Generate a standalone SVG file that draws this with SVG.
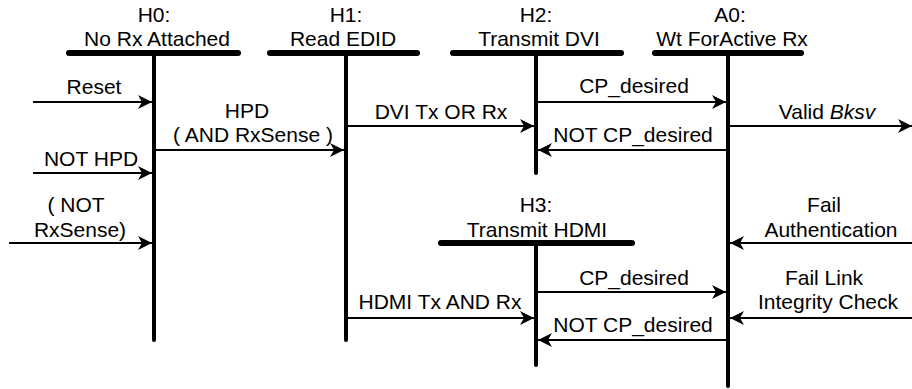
<svg xmlns="http://www.w3.org/2000/svg" width="912" height="389" viewBox="0 0 912 389">
<style>
text{font-family:"Liberation Sans",Arial,sans-serif;font-size:21px;fill:#000;text-anchor:middle}
.bar{stroke:#000;stroke-width:6;stroke-linecap:round;fill:none}
.life{stroke:#000;stroke-width:4;stroke-linecap:round;fill:none}
.arr{stroke:#000;stroke-width:2;fill:none;marker-end:url(#ah)}
</style>
<defs>
<marker id="ah" viewBox="-15 -8 16 16" refX="0" refY="0" markerWidth="16" markerHeight="16" markerUnits="userSpaceOnUse" orient="auto">
<path d="M0,0 L-14,-7 L-10,0 L-14,7 Z" fill="#000"/>
</marker>
</defs>
<g id="H0">
<text x="154" y="22">H0:</text>
<text x="157" y="46">No Rx Attached</text>
<line class="bar" x1="69" y1="53" x2="238" y2="53"/>
<line class="life" x1="154" y1="53" x2="154" y2="340"/>
</g>
<g id="H1">
<text x="346" y="22">H1:</text>
<text x="343" y="46">Read EDID</text>
<line class="bar" x1="270" y1="53" x2="417" y2="53"/>
<line class="life" x1="346" y1="53" x2="346" y2="340"/>
</g>
<g id="H2">
<text x="536" y="22">H2:</text>
<text x="539" y="46">Transmit DVI</text>
<line class="bar" x1="453" y1="53" x2="621" y2="53"/>
<line class="life" x1="536" y1="53" x2="536" y2="173"/>
</g>
<g id="A0">
<text x="730" y="22">A0:</text>
<text x="732" y="46">Wt ForActive Rx</text>
<line class="bar" x1="655" y1="53" x2="801" y2="53"/>
<line class="life" x1="728" y1="53" x2="728" y2="386"/>
</g>
<g id="H3">
<text x="536" y="212">H3:</text>
<text x="537" y="237">Transmit HDMI</text>
<line class="bar" x1="441" y1="243" x2="632" y2="243"/>
<line class="life" x1="536" y1="243" x2="536" y2="365"/>
</g>
<g id="connectors">
<line class="arr" x1="33" y1="102" x2="152" y2="102"/>
<text x="94" y="94">Reset</text>
<line class="arr" x1="33" y1="173" x2="152" y2="173"/>
<text x="91" y="166">NOT HPD</text>
<line class="arr" x1="9" y1="243" x2="152" y2="243"/>
<text x="76" y="212">( NOT</text>
<text x="80" y="237">RxSense)</text>
<line class="arr" x1="156" y1="150" x2="344" y2="150"/>
<text x="247" y="118">HPD</text>
<text x="253" y="142">( AND RxSense )</text>
<line class="arr" x1="348" y1="126" x2="534" y2="126"/>
<text x="441" y="119">DVI Tx OR Rx</text>
<line class="arr" x1="538" y1="102" x2="726" y2="102"/>
<text x="634" y="93">CP_desired</text>
<line class="arr" x1="726" y1="150" x2="538" y2="150"/>
<text x="633" y="142">NOT CP_desired</text>
<line class="arr" x1="730" y1="126" x2="912" y2="126"/>
<text x="827" y="119">Valid <tspan font-style="italic">Bksv</tspan></text>
<line class="arr" x1="912" y1="243" x2="730" y2="243"/>
<text x="824" y="212">Fail</text>
<text x="831" y="237">Authentication</text>
<line class="arr" x1="912" y1="318" x2="730" y2="318"/>
<text x="824" y="285">Fail Link</text>
<text x="828" y="309">Integrity Check</text>
<line class="arr" x1="348" y1="318" x2="534" y2="318"/>
<text x="440" y="309">HDMI Tx AND Rx</text>
<line class="arr" x1="538" y1="292" x2="726" y2="292"/>
<text x="634" y="285">CP_desired</text>
<line class="arr" x1="726" y1="340" x2="538" y2="340"/>
<text x="633" y="332">NOT CP_desired</text>
</g>
</svg>
